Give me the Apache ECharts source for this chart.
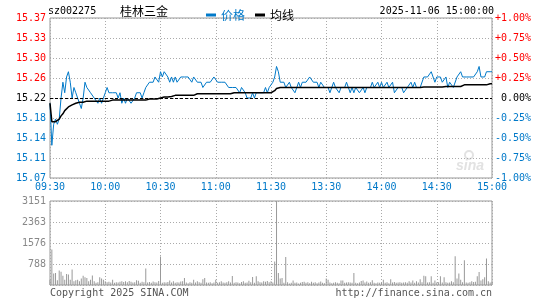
<!DOCTYPE html>
<html>
<head>
<meta charset="utf-8">
<script src="https://cdn.jsdelivr.net/npm/echarts@6/dist/echarts.min.js"></script>
<style>
  html, body { margin: 0; padding: 0; background: #fff; }
  #chart { width: 545px; height: 300px; }
</style>
</head>
<body>
<div id="chart"></div>
<script>
// 桂林三金 分时图 2025-11-06
var prevClose = 15.22;
var tickLabels = ['09:30', '10:00', '10:30', '11:00', '11:30', '13:30', '14:00', '14:30', '15:00'];

// 价格 (每分钟)
var price = [
  15.21,15.13,15.17,15.18,15.17,15.18,15.22,15.25,15.23,15.26,
  15.27,15.25,15.22,15.24,15.23,15.23,15.21,15.20,15.22,15.25,
  15.24,15.24,15.23,15.23,15.22,15.22,15.21,15.22,15.21,15.22,
  15.23,15.24,15.23,15.23,15.23,15.23,15.23,15.22,15.23,15.21,
  15.22,15.21,15.22,15.22,15.21,15.21,15.22,15.23,15.23,15.23,
  15.22,15.23,15.24,15.24,15.25,15.25,15.25,15.26,15.26,15.25,
  15.27,15.26,15.27,15.27,15.26,15.25,15.26,15.25,15.26,15.25,
  15.25,15.26,15.26,15.26,15.26,15.26,15.26,15.25,15.26,15.26,
  15.25,15.25,15.25,15.24,15.24,15.25,15.25,15.25,15.25,15.26,
  15.26,15.25,15.25,15.25,15.25,15.25,15.25,15.24,15.24,15.24,
  15.24,15.24,15.24,15.23,15.24,15.24,15.23,15.22,15.22,15.22,
  15.23,15.22,15.23,15.23,15.23,15.23,15.23,15.24,15.23,15.24,
  15.24,15.25,15.26,15.28,15.27,15.25,15.25,15.25,15.24,15.24,
  15.25,15.24,15.24,15.23,15.23,15.25,15.24,15.25,15.25,15.25,
  15.25,15.26,15.26,15.25,15.25,15.25,15.24,15.25,15.25,15.24,
  15.24,15.24,15.23,15.23,15.25,15.24,15.24,15.23,15.24,15.24,
  15.24,15.25,15.24,15.23,15.24,15.23,15.24,15.24,15.23,15.23,
  15.24,15.23,15.24,15.24,15.24,15.25,15.24,15.24,15.25,15.24,
  15.25,15.24,15.24,15.25,15.24,15.24,15.25,15.23,15.23,15.24,
  15.24,15.24,15.23,15.23,15.24,15.24,15.25,15.24,15.25,15.24,
  15.24,15.24,15.24,15.26,15.26,15.26,15.26,15.27,15.26,15.25,
  15.26,15.26,15.26,15.25,15.25,15.26,15.24,15.25,15.25,15.24,
  15.24,15.26,15.26,15.27,15.26,15.26,15.26,15.26,15.26,15.26,
  15.26,15.26,15.27,15.28,15.26,15.26,15.26,15.27,15.27,15.27,
  15.27
];

// 均线
var avgPrice = [
  15.210,15.175,15.173,15.175,15.176,15.180,15.186,15.190,15.196,15.199,
  15.203,15.205,15.207,15.209,15.210,15.211,15.212,15.212,15.212,15.213,
  15.214,15.214,15.214,15.214,15.214,15.214,15.214,15.214,15.214,15.214,
  15.214,15.214,15.214,15.214,15.216,15.216,15.216,15.216,15.216,15.216,
  15.216,15.216,15.216,15.216,15.216,15.216,15.216,15.216,15.216,15.216,
  15.216,15.216,15.216,15.216,15.218,15.218,15.218,15.218,15.218,15.220,
  15.220,15.222,15.222,15.222,15.222,15.223,15.223,15.223,15.225,15.225,
  15.225,15.225,15.225,15.225,15.225,15.225,15.225,15.225,15.225,15.228,
  15.228,15.228,15.228,15.228,15.228,15.228,15.228,15.228,15.228,15.228,
  15.228,15.228,15.228,15.228,15.228,15.228,15.228,15.228,15.228,15.228,
  15.230,15.230,15.230,15.230,15.230,15.230,15.230,15.230,15.230,15.230,
  15.230,15.230,15.230,15.230,15.230,15.230,15.230,15.230,15.230,15.230,
  15.230,15.231,15.234,15.238,15.240,15.240,15.240,15.240,15.240,15.240,
  15.240,15.240,15.240,15.240,15.240,15.240,15.240,15.240,15.240,15.240,
  15.240,15.240,15.240,15.240,15.240,15.240,15.240,15.240,15.240,15.240,
  15.240,15.240,15.240,15.240,15.240,15.240,15.240,15.240,15.240,15.240,
  15.240,15.240,15.240,15.240,15.240,15.240,15.240,15.240,15.240,15.240,
  15.240,15.240,15.240,15.240,15.240,15.240,15.240,15.240,15.240,15.240,
  15.240,15.240,15.240,15.240,15.240,15.240,15.240,15.240,15.240,15.240,
  15.240,15.240,15.240,15.240,15.240,15.240,15.240,15.240,15.240,15.240,
  15.240,15.240,15.240,15.241,15.241,15.241,15.241,15.241,15.241,15.241,
  15.241,15.241,15.241,15.241,15.242,15.242,15.242,15.242,15.242,15.242,
  15.242,15.242,15.242,15.242,15.242,15.245,15.245,15.245,15.245,15.245,
  15.245,15.245,15.245,15.245,15.245,15.245,15.245,15.245,15.245,15.247,
  15.247
];

// 成交量
var volume = [
  200,1330,430,450,175,540,500,350,200,410,
  390,200,580,140,175,200,140,240,350,290,
  260,140,200,360,140,80,100,290,240,200,
  140,100,120,90,200,80,100,90,120,140,
  110,140,100,150,120,90,100,180,160,80,
  120,100,615,90,110,80,130,100,90,150,
  1067,80,100,90,110,170,90,140,80,100,
  90,130,140,260,90,70,100,80,200,90,
  140,100,80,220,260,90,80,100,70,90,
  200,80,100,140,90,80,100,140,90,340,
  80,100,90,70,110,140,80,90,160,100,
  300,80,330,140,100,90,140,120,150,100,
  140,90,880,3151,450,240,260,80,1050,100,
  60,80,170,80,90,60,80,110,120,80,
  100,70,120,80,100,70,90,130,80,70,
  240,200,90,70,80,100,80,70,170,170,
  80,90,100,90,80,450,80,70,90,150,
  170,90,130,80,100,180,80,70,90,80,
  90,200,80,100,70,220,90,110,80,90,
  100,80,90,100,80,140,90,170,80,140,
  90,220,100,350,330,90,100,330,80,170,
  90,100,330,90,290,100,80,90,140,100,
  1080,240,430,200,100,930,90,80,100,140,
  110,120,330,490,170,220,290,990,140,90,
  120
];

// 时间轴: 上午 09:30-11:30, 下午 13:01-15:00
var times = [];
for (var i = 0; i < price.length; i++) {
  var m = i <= 120 ? 9 * 60 + 30 + i : 13 * 60 + (i - 120);
  var h = Math.floor(m / 60), mm = m % 60;
  times.push((h < 10 ? '0' : '') + h + ':' + (mm < 10 ? '0' : '') + mm);
}
// 每30分钟一个刻度, 11:30 与 13:00 共用
var tickIdx = tickLabels.map(function (t, k) { return k * 30; });

var BLUE = '#0079c9';
var RED = '#ff0000';
var MONO = 'DejaVu Sans Mono';
var CJK = 'Noto Sans CJK SC';
var gridDot = { color: '#aaa', type: [1, 2], width: 1 };

function upDownColor(v, base) {
  v = parseFloat(v);
  if (Math.abs(v - base) < 1e-6) return '#000';
  return v > base ? RED : BLUE;
}

var chart = echarts.init(document.getElementById('chart'));
chart.setOption({
  animation: false,
  backgroundColor: '#fff',
  legend: {
    left: 201,
    top: 4,
    icon: 'rect',
    itemWidth: 10,
    itemHeight: 3,
    itemGap: 10,
    textStyle: { fontFamily: CJK, fontSize: 12 },
    data: [
      { name: '价格', textStyle: { color: BLUE } },
      { name: '均线', textStyle: { color: '#000' } }
    ]
  },
  grid: [
    { left: 50, right: 53, top: 18, height: 160, show: true, borderColor: '#999', borderWidth: 1 },
    { left: 50, right: 53, top: 201, height: 84, show: true, borderColor: '#999', borderWidth: 1 }
  ],
  xAxis: [
    {
      type: 'category', gridIndex: 0, data: times, boundaryGap: false,
      axisLine: { show: false }, axisTick: { show: false },
      axisLabel: {
        interval: function (idx) { return tickIdx.indexOf(idx) >= 0; },
        formatter: function (v, idx) { return tickLabels[tickIdx.indexOf(idx)]; },
        color: BLUE, fontFamily: MONO, fontSize: 10, margin: 4
      },
      splitLine: { show: true, interval: function (idx) { return tickIdx.indexOf(idx) >= 0; }, lineStyle: gridDot }
    },
    {
      type: 'category', gridIndex: 1, data: times, boundaryGap: false,
      axisLine: { show: false }, axisTick: { show: false }, axisLabel: { show: false },
      splitLine: { show: true, interval: function (idx) { return tickIdx.indexOf(idx) >= 0; }, lineStyle: gridDot }
    }
  ],
  yAxis: [
    {
      type: 'value', gridIndex: 0, position: 'left',
      min: 15.0678, max: 15.3722, interval: 0.03805,
      axisLine: { show: false }, axisTick: { show: false },
      axisLabel: {
        fontFamily: MONO, fontSize: 10, margin: 4,
        formatter: function (v) { return v.toFixed(2); },
        color: function (v) { return upDownColor(v, prevClose); }
      },
      splitLine: { show: true, lineStyle: gridDot }
    },
    {
      type: 'value', gridIndex: 0, position: 'right',
      min: -1, max: 1, interval: 0.25,
      axisLine: { show: false }, axisTick: { show: false },
      axisLabel: {
        fontFamily: MONO, fontSize: 10, margin: 39, align: 'right',
        formatter: function (v) {
          if (Math.abs(v) < 1e-9) return '0.00%';
          return (v > 0 ? '+' : '') + v.toFixed(2) + '%';
        },
        color: function (v) { return upDownColor(v, 0); }
      },
      splitLine: { show: false }
    },
    {
      type: 'value', gridIndex: 1,
      min: 0, max: 3151, interval: 787.75,
      axisLine: { show: false }, axisTick: { show: false },
      axisLabel: {
        showMinLabel: false,
        fontFamily: MONO, fontSize: 10, margin: 4, color: '#888',
        formatter: function (v) { return Math.round(v); }
      },
      splitLine: { show: true, lineStyle: gridDot }
    }
  ],
  graphic: [
    { type: 'text', x: 48, y: 11, style: { text: 'sz002275', font: '10px ' + MONO, fill: '#000', verticalAlign: 'middle' } },
    { type: 'text', x: 120, y: 11, style: { text: '桂林三金', font: '12px "' + CJK + '"', fill: '#000', verticalAlign: 'middle' } },
    { type: 'text', x: 494, y: 11, style: { text: '2025-11-06 15:00:00', font: '10px ' + MONO, fill: '#000', align: 'right', verticalAlign: 'middle' } },
    { type: 'text', x: 50, y: 293, style: { text: 'Copyright 2025 SINA.COM', font: '10px ' + MONO, fill: '#555', verticalAlign: 'middle' } },
    { type: 'text', x: 492, y: 293, style: { text: 'http://finance.sina.com.cn', font: '10px ' + MONO, fill: '#555', align: 'right', verticalAlign: 'middle' } },
    // 水印
    { type: 'text', x: 484, y: 166, z: -1, style: { text: 'sina', font: 'italic bold 14px Arial', fill: '#e2e2e2', align: 'right', verticalAlign: 'middle' } },
    { type: 'circle', shape: { cx: 469, cy: 155, r: 4 }, z: -1, style: { fill: 'none', stroke: '#e2e2e2', lineWidth: 2 } }
  ],
  series: [
    {
      name: '价格', type: 'line', xAxisIndex: 0, yAxisIndex: 0,
      data: price, showSymbol: false, symbol: 'none',
      lineStyle: { color: BLUE, width: 1 }, itemStyle: { color: BLUE },
      markLine: {
        silent: true, symbol: ['none', 'none'], label: { show: false },
        lineStyle: { color: '#000', type: [3, 2], width: 1 },
        data: [{ yAxis: prevClose }]
      }
    },
    {
      name: '均线', type: 'line', xAxisIndex: 0, yAxisIndex: 0,
      data: avgPrice, showSymbol: false, symbol: 'none',
      lineStyle: { color: '#000', width: 1.5 }, itemStyle: { color: '#000' }
    },
    {
      name: '成交量', type: 'bar', xAxisIndex: 1, yAxisIndex: 2,
      data: volume, barWidth: 1, itemStyle: { color: '#999' }
    }
  ]
});
</script>
</body>
</html>
